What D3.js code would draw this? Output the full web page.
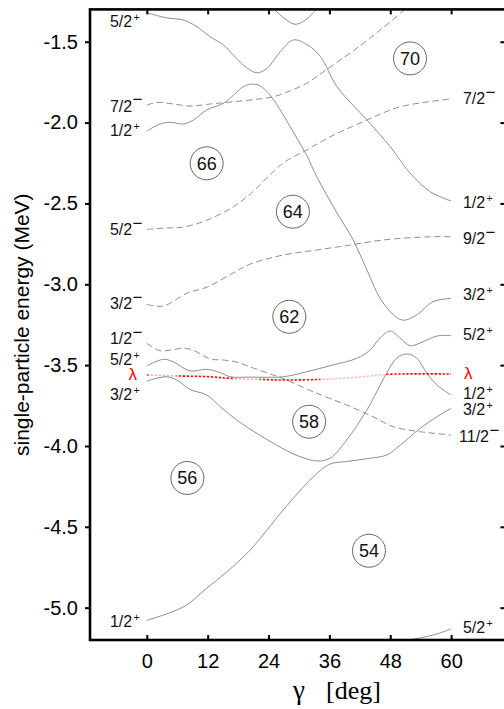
<!DOCTYPE html>
<html>
<head>
<meta charset="utf-8">
<script src="https://cdn.jsdelivr.net/npm/d3@7/dist/d3.min.js"></script>
<style>
  body { margin: 0; background: #fff; }
  svg { display: block; font-family: "Liberation Sans", Arial, sans-serif; }
</style>
</head>
<body>
<div id="chart"></div>
<script>
//  Single-particle levels vs gamma : gamma (deg) / energy (MeV)
//  (orbital names are the labels at gamma = 0 and gamma = 60)
var gA = [0, 3.9, 7.2, 9.9, 12.5, 15.1, 17.7, 19.7, 21.7, 23.7, 26.3, 28.9, 31.5, 34.2, 37.5, 43.4, 48.0, 51.9, 55.9, 60];
var eA = [-1.321, -1.352, -1.366, -1.407, -1.469, -1.520, -1.603, -1.661, -1.692, -1.665, -1.562, -1.489, -1.516, -1.590, -1.778, -1.984, -2.149, -2.312, -2.428, -2.485];

var gB = [24.7, 26.1, 27.6, 29.2, 30.8, 32.4, 33.8];
var eB = [-1.285, -1.329, -1.366, -1.392, -1.375, -1.335, -1.285];

var gC = [0, 2.0, 5.2, 8.5, 12.5, 17.1, 21.7, 25.0, 28.2, 31.5, 34.8, 40.1, 46.0, 50.0, 51.9];
var eC = [-1.892, -1.875, -1.885, -1.898, -1.885, -1.871, -1.856, -1.840, -1.805, -1.757, -1.686, -1.570, -1.428, -1.324, -1.273];

var gD = [0, 2.6, 4.6, 7.2, 9.2, 11.8, 15.1, 17.1, 19.0, 20.7, 22.3, 24.3, 26.9, 29.6, 31.5, 33.5, 37.5, 40.7, 43.4, 46.6, 50.3, 53.2, 56.4, 60];
var eD = [-2.052, -2.009, -1.998, -2.009, -1.984, -1.922, -1.881, -1.830, -1.778, -1.762, -1.772, -1.830, -1.953, -2.097, -2.201, -2.335, -2.559, -2.726, -2.912, -3.116, -3.221, -3.190, -3.108, -3.087];

var gE = [0, 3.6, 7.2, 11.9, 17.0, 20.4, 26.9, 31.5, 36.1, 43.4, 50.0, 60];
var eE = [-2.660, -2.652, -2.646, -2.603, -2.522, -2.442, -2.250, -2.170, -2.089, -1.984, -1.902, -1.854];

var gF = [0, 3.2, 8.0, 11.9, 17.0, 20.4, 26.9, 33.5, 40.1, 46.6, 55.9, 60];
var eF = [-3.124, -3.135, -3.054, -3.017, -2.930, -2.875, -2.819, -2.788, -2.757, -2.726, -2.706, -2.706];

var gG = [0, 2.6, 4.6, 7.2, 9.1, 12.5, 15.0, 17.7, 21.0, 24.9, 27.6, 32.8, 39.4, 44.6, 48.6, 53.9, 60];
var eG = [-3.365, -3.411, -3.407, -3.396, -3.407, -3.462, -3.468, -3.481, -3.518, -3.561, -3.592, -3.665, -3.747, -3.819, -3.881, -3.912, -3.932];

var gH = [0, 3.3, 5.2, 8.5, 11.8, 14.5, 16.4, 20.4, 26.9, 31.5, 36.7, 41.4, 44.0, 46.0, 48.0, 49.9, 51.9, 53.9, 57.2, 60];
var eH = [-3.504, -3.464, -3.479, -3.536, -3.526, -3.547, -3.572, -3.574, -3.572, -3.541, -3.499, -3.458, -3.407, -3.332, -3.289, -3.332, -3.380, -3.363, -3.320, -3.317];

var gI = [0, 3.9, 5.9, 8.5, 11.8, 14.5, 17.7, 21.7, 25.0, 28.2, 30.2, 33.5, 36.1, 39.4, 43.4, 47.3, 49.3, 51.3, 53.2, 55.2, 57.2, 60];
var eI = [-3.598, -3.572, -3.592, -3.650, -3.685, -3.757, -3.839, -3.922, -3.984, -4.039, -4.066, -4.093, -4.076, -3.963, -3.777, -3.549, -3.456, -3.431, -3.456, -3.549, -3.623, -3.685];

var gJ = [0, 3.9, 7.9, 11.8, 15.8, 20.4, 26.9, 32.8, 36.1, 39.4, 44.0, 47.3, 50.0, 53.9, 57.2, 60];
var eJ = [-5.078, -5.039, -4.983, -4.880, -4.778, -4.643, -4.396, -4.192, -4.112, -4.096, -4.076, -4.056, -3.994, -3.891, -3.819, -3.767];

var gK = [49, 52, 56.5, 60];
var eK = [-5.214, -5.198, -5.169, -5.132];

//  parity of each curve (+ solid, - dashed)
var levelG = [gA, gB, gC, gD, gE, gF, gG, gH, gI, gJ, gK];
var levelE = [eA, eB, eC, eD, eE, eF, eG, eH, eI, eJ, eK];
var levelParity = ["+", "+", "-", "+", "-", "-", "-", "+", "+", "+", "+"];

//  Fermi level lambda
var lamG = [0, 5.9, 12.5, 16.4, 22.3, 26.3, 34.2, 42.6, 47.3, 60];
var lamE = [-3.561, -3.567, -3.572, -3.582, -3.588, -3.592, -3.588, -3.572, -3.557, -3.555];

//  Level labels (j, parity, energy where the label sits)
var leftJ = ["5/2", "7/2", "1/2", "5/2", "3/2", "1/2", "5/2", "3/2", "1/2"];
var leftP = ["+", "-", "+", "-", "-", "-", "+", "+", "+"];
var leftE = [-1.372, -1.896, -2.050, -2.660, -3.116, -3.332, -3.462, -3.680, -5.082];

var rightJ = ["7/2", "1/2", "9/2", "3/2", "5/2", "1/2", "3/2", "11/2", "5/2"];
var rightP = ["-", "+", "-", "+", "+", "+", "+", "-", "+"];
var rightE = [-1.852, -2.491, -2.714, -3.060, -3.308, -3.673, -3.771, -3.938, -5.123];

//  Shell gaps (circled particle numbers)
var gapN = [70, 66, 64, 62, 58, 56, 54];
var gapG = [51.9, 11.8, 28.8, 28.1, 32.0, 8.0, 43.8];
var gapE = [-1.603, -2.252, -2.551, -3.201, -3.850, -4.198, -4.648];

//  Ticks
var xTicks = [0, 12, 24, 36, 48, 60];
var yTicks = [-5.0, -4.5, -4.0, -3.5, -3.0, -2.5, -2.0, -1.5];

// ---------------------------------------------------------------------------------- //

var svg = d3.select("#chart")
  .append("svg")
  .attr("width", 504)
  .attr("height", 709);

var x = d3.scaleLinear().domain([-11.2, 70.7]).range([90, 505.4]);
var y = d3.scaleLinear().domain([-5.2, -1.3]).range([640, 9.4]);

//  clip for the plot area
svg.append("clipPath").attr("id", "plotclip")
  .append("rect")
  .attr("x", x.range()[0]).attr("y", y.range()[1])
  .attr("width", x.range()[1] - x.range()[0])
  .attr("height", y.range()[0] - y.range()[1]);

var line = d3.line()
  .x(function(d) { return x(d[0]); })
  .y(function(d) { return y(d[1]); })
  .curve(d3.curveCatmullRom.alpha(0.5));

var plot = svg.append("g").attr("clip-path", "url(#plotclip)");

levelG.forEach(function(g, i) {
  var pts = g.map(function(v, k) { return [v, levelE[i][k]]; });
  plot.append("path")
    .attr("d", line(pts))
    .attr("fill", "none")
    .attr("stroke", "#8e8e8e")
    .attr("stroke-width", 1)
    .attr("stroke-dasharray", levelParity[i] == "-" ? "6.5,3.5" : null);
});

//  lambda: red dotted, fading in places
var grad = svg.append("defs").append("linearGradient")
  .attr("id", "lamgrad")
  .attr("gradientUnits", "userSpaceOnUse")
  .attr("x1", x(0)).attr("x2", x(60)).attr("y1", 0).attr("y2", 0);
[[0, 1], [0.7, 0.3], [5.6, 0.3], [6.2, 1], [16.8, 1], [17.6, 0.3], [22.0, 0.3], [22.6, 1],
 [33.8, 1], [34.6, 0.25], [46.8, 0.25], [47.5, 1], [60, 1]].forEach(function(s) {
  grad.append("stop")
    .attr("offset", s[0] / 60)
    .attr("stop-color", "#ff0000")
    .attr("stop-opacity", s[1]);
});

plot.append("path")
  .attr("d", line(lamG.map(function(v, k) { return [v, lamE[k]]; })))
  .attr("fill", "none")
  .attr("stroke", "url(#lamgrad)")
  .attr("stroke-width", 1.6)
  .attr("stroke-dasharray", "2.3,1.7");

//  lambda labels
[[x(0) - 14, lamE[0]], [x(60) + 17, lamE[lamE.length - 1]]].forEach(function(p) {
  svg.append("text")
    .attr("x", p[0]).attr("y", y(p[1]))
    .attr("dy", "0.32em")
    .attr("text-anchor", "middle")
    .attr("fill", "#ff0000")
    .style("font-size", "17px")
    .text("\u03bb");
});

//  level labels
function levelLabel(cx, j, p, e) {
  var base = svg.append("text")
    .attr("x", cx).attr("y", y(e))
    .attr("dy", "0.36em")
    .attr("text-anchor", "middle")
    .style("font-size", "16px")
    .attr("fill", "#111")
    .text(j);
  var bb = base.node().getBBox();
  var b = y(e) + 0.36 * 16;
  if (p == "+") {
    svg.append("text")
      .attr("x", bb.x + bb.width + 1.2).attr("y", b - 6)
      .style("font-size", "10.5px")
      .attr("fill", "#111")
      .text("+");
  } else {
    svg.append("text")
      .attr("x", bb.x + bb.width + 0.3).attr("y", b - 6.2)
      .style("font-size", "17px")
      .attr("fill", "#111")
      .text("\u2212");
  }
}
leftJ.forEach(function(j, i) { levelLabel(121, j, leftP[i], leftE[i]); });
rightJ.forEach(function(j, i) { levelLabel(474, j, rightP[i], rightE[i]); });

//  shell gap circles
gapN.forEach(function(n, i) {
  svg.append("circle")
    .attr("cx", x(gapG[i])).attr("cy", y(gapE[i]))
    .attr("r", 16.5)
    .attr("fill", "#fff")
    .attr("stroke", "#555")
    .attr("stroke-width", 0.9);
  svg.append("text")
    .attr("x", x(gapG[i])).attr("y", y(gapE[i]))
    .attr("dy", "0.36em")
    .attr("text-anchor", "middle")
    .style("font-size", "18px")
    .attr("fill", "#111")
    .text(n);
});

// ---------------------------------------------------------------------------------- //
//  Axes

var fmt = function(d) { return d.toFixed(1); };

var axL = svg.append("g").attr("transform", "translate(" + x.range()[0] + ",0)")
  .call(d3.axisLeft(y).tickValues(yTicks).tickSize(5).tickPadding(7).tickFormat(fmt));
var axB = svg.append("g").attr("transform", "translate(0," + y.range()[0] + ")")
  .call(d3.axisBottom(x).tickValues(xTicks).tickSizeInner(-5).tickSizeOuter(0).tickPadding(14));
var axT = svg.append("g").attr("transform", "translate(0," + y.range()[1] + ")")
  .call(d3.axisTop(x).tickValues(xTicks).tickSizeInner(-5).tickSizeOuter(0).tickFormat(""));
var axR = svg.append("g").attr("transform", "translate(" + x.range()[1] + ",0)")
  .call(d3.axisRight(y).tickValues(yTicks).tickSizeInner(-5).tickSizeOuter(0).tickFormat(""));

[axL, axB, axT, axR].forEach(function(a) {
  a.select(".domain").remove();
  a.selectAll(".tick line").attr("stroke", "#000").attr("stroke-width", 2);
  a.selectAll(".tick text")
    .attr("fill", "#000")
    .style("font-family", "'Liberation Sans', Arial, sans-serif")
    .style("font-size", "20px");
});

//  frame
svg.append("rect")
  .attr("x", x.range()[0]).attr("y", y.range()[1])
  .attr("width", x.range()[1] - x.range()[0])
  .attr("height", y.range()[0] - y.range()[1])
  .attr("fill", "none")
  .attr("stroke", "#000")
  .attr("stroke-width", 2.6);

//  axis titles
svg.append("text")
  .attr("transform", "translate(29," + ((y.range()[0] + y.range()[1]) / 2) + ") rotate(-90)")
  .attr("text-anchor", "middle")
  .style("font-size", "21px")
  .attr("fill", "#000")
  .text("single-particle energy (MeV)");

svg.append("text")
  .attr("x", 293).attr("y", 699)
  .style("font-family", "'Liberation Serif', 'Times New Roman', serif")
  .style("font-size", "27px")
  .attr("fill", "#000")
  .text("\u03b3");
svg.append("text")
  .attr("x", 326).attr("y", 699)
  .style("font-family", "'Liberation Serif', 'Times New Roman', serif")
  .style("font-size", "26px")
  .attr("fill", "#000")
  .text("[deg]");
</script>
</body>
</html>
